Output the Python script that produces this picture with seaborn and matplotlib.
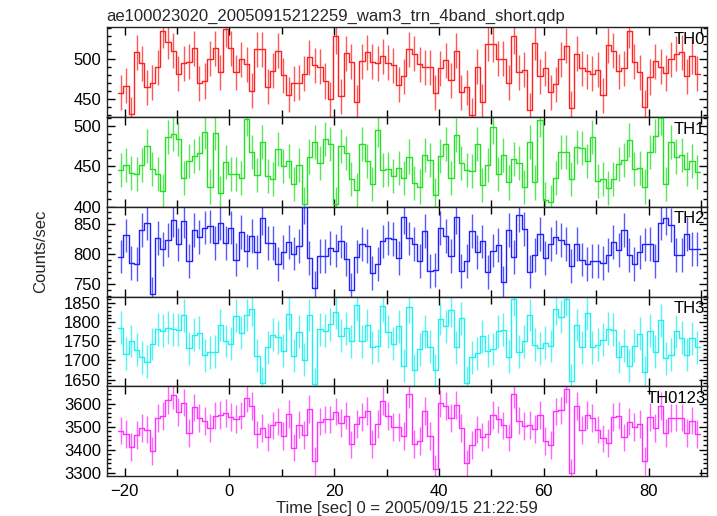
import numpy as np
import pandas as pd
import matplotlib.pyplot as plt
import matplotlib.ticker as mticker
import seaborn as sns

# ---- data (1 s bins) ----
bin_start = -21.2
bin_width = 1.0

th0 = [458, 467, 431, 509, 495, 465, 471, 490, 536, 522,
       511, 482, 495, 497, 514, 470, 473, 501, 514, 484,
       538, 514, 484, 500, 494, 461, 513, 513, 466, 486,
       511, 480, 456, 470, 471, 482, 503, 493, 491, 473,
       450, 529, 454, 508, 497, 446, 498, 509, 497, 495,
       504, 496, 493, 468, 479, 513, 507, 494, 490, 490,
       458, 489, 499, 474, 511, 459, 465, 430, 491, 447,
       520, 519, 501, 501, 471, 529, 484, 487, 436, 521,
       479, 489, 459, 469, 500, 517, 439, 507, 489, 485,
       482, 487, 455, 518, 511, 485, 489, 536, 497, 484,
       440, 478, 498, 491, 483, 500, 507, 509, 479, 504, 482]

th1 = [445, 452, 442, 441, 452, 475, 447, 440, 420, 486,
       490, 484, 435, 457, 463, 466, 492, 425, 491, 417,
       455, 441, 440, 436, 508, 467, 439, 480, 438, 434,
       471, 450, 457, 428, 451, 403, 462, 480, 454, 484,
       477, 404, 475, 466, 434, 421, 477, 457, 428, 495,
       445, 447, 438, 448, 436, 462, 429, 425, 464, 458,
       415, 463, 477, 436, 489, 454, 445, 444, 477, 427,
       451, 498, 441, 464, 430, 459, 454, 424, 480, 430,
       507, 409, 406, 436, 468, 468, 434, 474, 473, 456,
       486, 432, 434, 423, 434, 453, 458, 482, 447, 448,
       425, 468, 487, 509, 428, 480, 462, 464, 447, 457, 443]

th2 = [796, 831, 785, 784, 840, 852, 734, 827, 808, 823,
       856, 816, 855, 788, 840, 829, 844, 846, 819, 852,
       818, 844, 791, 837, 806, 830, 803, 860, 818, 818,
       783, 803, 820, 801, 813, 878, 793, 744, 797, 797,
       810, 806, 821, 792, 740, 796, 817, 813, 769, 784,
       821, 827, 825, 793, 862, 826, 817, 789, 838, 772,
       774, 843, 830, 797, 861, 772, 789, 838, 803, 821,
       770, 806, 815, 753, 840, 795, 865, 842, 771, 799,
       833, 794, 817, 828, 824, 817, 780, 817, 791, 784,
       788, 789, 785, 798, 820, 807, 840, 798, 783, 803,
       816, 817, 788, 851, 860, 848, 799, 799, 834, 808, 808]

th3 = [1786, 1718, 1751, 1728, 1708, 1697, 1743, 1782, 1778, 1786,
       1782, 1780, 1818, 1732, 1767, 1773, 1714, 1721, 1723, 1793,
       1751, 1744, 1817, 1773, 1819, 1834, 1712, 1640, 1735, 1767,
       1761, 1726, 1822, 1713, 1775, 1702, 1819, 1638, 1782, 1778,
       1795, 1826, 1765, 1784, 1750, 1846, 1750, 1793, 1734, 1739,
       1843, 1775, 1744, 1789, 1686, 1841, 1674, 1729, 1776, 1736,
       1674, 1809, 1789, 1831, 1735, 1811, 1642, 1708, 1719, 1763,
       1726, 1730, 1776, 1780, 1710, 1860, 1723, 1750, 1819, 1741,
       1732, 1747, 1738, 1835, 1815, 1860, 1647, 1793, 1735, 1824,
       1735, 1741, 1754, 1783, 1780, 1709, 1739, 1686, 1739, 1770,
       1669, 1778, 1723, 1805, 1706, 1715, 1776, 1760, 1715, 1758, 1735]

th0123 = [3483, 3468, 3412, 3463, 3494, 3487, 3395, 3536, 3545, 3616,
          3637, 3562, 3604, 3473, 3583, 3538, 3524, 3494, 3548, 3549,
          3560, 3543, 3533, 3548, 3625, 3590, 3466, 3494, 3456, 3505,
          3522, 3460, 3556, 3409, 3509, 3463, 3576, 3350, 3522, 3531,
          3531, 3565, 3515, 3548, 3423, 3511, 3542, 3569, 3426, 3511,
          3611, 3545, 3498, 3497, 3459, 3640, 3426, 3437, 3567, 3460,
          3318, 3601, 3590, 3536, 3593, 3494, 3340, 3420, 3488, 3456,
          3467, 3550, 3531, 3505, 3453, 3641, 3526, 3502, 3508, 3491,
          3550, 3437, 3420, 3566, 3570, 3664, 3300, 3590, 3484, 3550,
          3536, 3487, 3449, 3429, 3543, 3548, 3453, 3522, 3498, 3512,
          3350, 3543, 3495, 3590, 3473, 3536, 3539, 3539, 3473, 3526, 3467]

band_names = ["TH0", "TH1", "TH2", "TH3", "TH0123"]
band_values = [th0, th1, th2, th3, th0123]
band_errors = [22, 21, 28, 43, 60]
band_colors = ["#ff2020", "#22e022", "#2020ff", "#20f0f0", "#ff30ff"]
band_ylims = [(427.7, 540.3), (400, 510.6), (729.5, 878.6), (1632.4, 1867.4), (3285.7, 3675)]
band_major = [50, 50, 50, 50, 100]
band_minor = [10, 10, 10, 10, 20]

title = "ae100023020_20050915212259_wam3_trn_4band_short.qdp"
xlabel = "Time [sec] 0 = 2005/09/15 21:22:59"
ylabel = "Counts/sec"

# ---- style ----
sns.set_theme(style="ticks")
plt.rcParams['font.family'] = ['Liberation Sans', 'DejaVu Sans']
plt.rcParams['axes.unicode_minus'] = True
fs = 12

fig, axes = plt.subplots(5, 1, sharex=True, figsize=(7.17, 5.16), dpi=100)
fig.subplots_adjust(left=0.1488, right=0.9856, top=0.947, bottom=0.0775, hspace=0)

for ax, name, vals, err, col, ylim, maj, mnr in zip(
        axes, band_names, band_values, band_errors, band_colors,
        band_ylims, band_major, band_minor):
    n = len(vals)
    edges = bin_start + bin_width * np.arange(n + 1)
    centers = edges[:-1] + bin_width / 2
    df = pd.DataFrame({"time": edges, "rate": list(vals) + [vals[-1]]})

    ax.vlines(centers, np.array(vals) - err, np.array(vals) + err,
              color=col, lw=1.0, alpha=0.75, zorder=2)
    sns.lineplot(data=df, x="time", y="rate", ax=ax, color=col, lw=1.0,
                 drawstyle="steps-post", estimator=None, zorder=3)

    ax.set_ylim(*ylim)
    ax.set_xlim(-23.4, 91.1)
    ax.set_ylabel("")
    ax.set_xlabel("")
    ax.yaxis.set_major_locator(mticker.MultipleLocator(maj))
    ax.yaxis.set_minor_locator(mticker.MultipleLocator(mnr))
    ax.xaxis.set_major_locator(mticker.MultipleLocator(20))
    ax.xaxis.set_minor_locator(mticker.MultipleLocator(10))
    ax.tick_params(which="both", direction="in", top=True, right=True,
                   labelsize=fs, colors="black", width=1.0)
    ax.tick_params(which="major", length=5.5, pad=4)
    ax.tick_params(which="minor", length=3)
    ax.tick_params(axis="x", which="minor", length=5)
    ax.tick_params(axis="x", which="major", pad=6)
    for s in ax.spines.values():
        s.set_linewidth(1.0)
        s.set_color("#222222")
    ax.text(0.998, 0.95, name, transform=ax.transAxes, ha="right", va="top",
            fontsize=fs, color="black")

axes[-1].set_xlabel(xlabel, fontsize=fs, labelpad=1)
fig.text(0.1488, 1 - 20.7 / 516, title, ha="left", va="baseline", fontsize=fs)
fig.text(0.057, 0.512, ylabel, rotation=90, ha="center", va="center", fontsize=fs)

fig.savefig("out.png", dpi=100)
